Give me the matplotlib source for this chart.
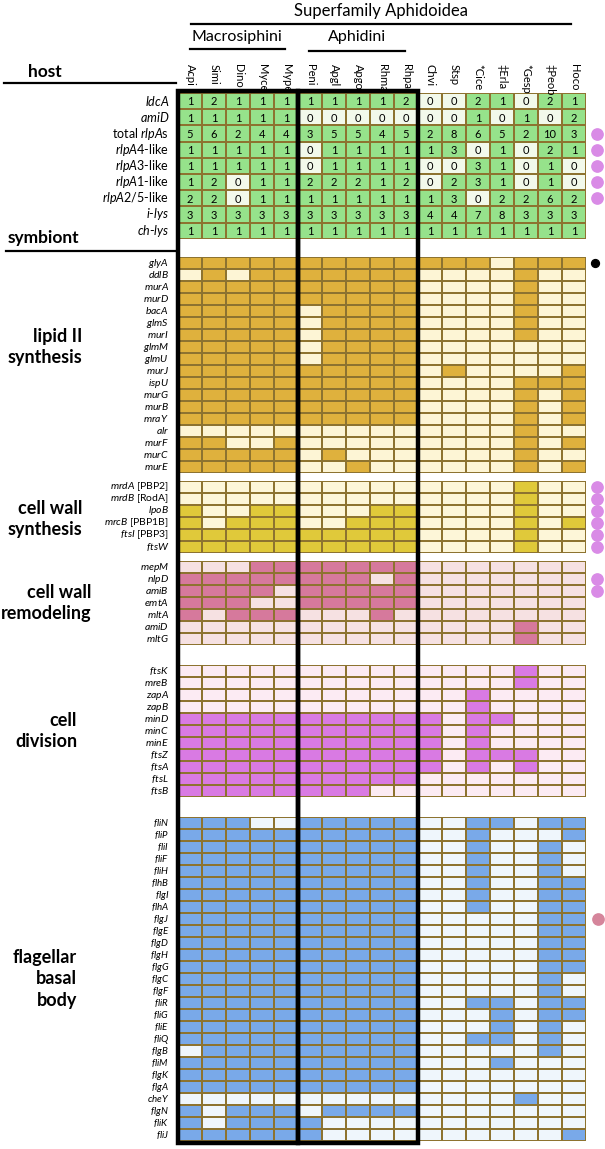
import numpy as np
import matplotlib
matplotlib.use("Agg")
import matplotlib.pyplot as plt
from matplotlib.colors import ListedColormap
from matplotlib.patches import Rectangle

plt.rcParams['font.family'] = ['Lato', 'DejaVu Sans']
plt.rcParams['mathtext.fontset'] = 'custom'
plt.rcParams['mathtext.rm'] = 'Lato'
plt.rcParams['mathtext.it'] = 'Lato:italic'
plt.rcParams['mathtext.bf'] = 'Lato:bold'

# ---------------- data ----------------
species = ["Acpi", "Simi", "Dino", "Myce", "Mype",
           "Peni", "Apgl", "Apgo", "Rhma", "Rhpa",
           "Chvi", "Stsp", "*Cice", "\u2021Erla", "*Gesp", "\u2021Peob", "Hoco"]

host_genes = ["|ldcA|", "|amiD|", "total |rlpA|s", "|rlpA4|-like", "|rlpA3|-like",
              "|rlpA1|-like", "|rlpA2/5|-like", "|i|-|lys|", "|ch|-|lys|"]
host_counts = [
    [1, 2, 1, 1, 1, 1, 1, 1, 1, 2, 0, 0, 2, 1, 0, 2, 1],
    [1, 1, 1, 1, 1, 0, 0, 0, 0, 0, 0, 0, 1, 0, 1, 0, 2],
    [5, 6, 2, 4, 4, 3, 5, 5, 4, 5, 2, 8, 6, 5, 2, 10, 3],
    [1, 1, 1, 1, 1, 0, 1, 1, 1, 1, 1, 3, 0, 1, 0, 2, 1],
    [1, 1, 1, 1, 1, 0, 1, 1, 1, 1, 0, 0, 3, 1, 0, 1, 0],
    [1, 2, 0, 1, 1, 2, 2, 2, 1, 2, 0, 2, 3, 1, 0, 1, 0],
    [2, 2, 0, 1, 1, 1, 1, 1, 1, 1, 1, 3, 0, 2, 2, 6, 2],
    [3, 3, 3, 3, 3, 3, 3, 3, 3, 3, 4, 4, 7, 8, 3, 3, 3],
    [1, 1, 1, 1, 1, 1, 1, 1, 1, 1, 1, 1, 1, 1, 1, 1, 1],
]

lipid_genes = ["glyA", "ddlB", "murA", "murD", "bacA", "glmS", "murI", "glmM", "glmU",
               "murJ", "ispU", "murG", "murB", "mraY", "alr", "murF", "murC", "murE"]
lipid_presence = [
    "11111 11111 1110111",
    "01011 11111 0000100",
    "11111 11111 0000100",
    "11111 11111 0000100",
    "11111 01111 0000100",
    "11111 01111 0000100",
    "11111 01111 0000100",
    "11111 01111 0000000",
    "11111 01111 0000000",
    "11111 11111 0100001",
    "11111 11111 0000111",
    "11111 11111 0000101",
    "11111 11111 0000101",
    "11111 11111 0000101",
    "00000 00000 0000100",
    "11001 00000 0000101",
    "11111 01000 0000100",
    "11111 00100 0000101",
]

cws_genes = ["|mrdA| [PBP2]", "|mrdB| [RodA]", "|lpoB|", "|mrcB| [PBP1B]", "|ftsI| [PBP3]", "|ftsW|"]
cws_presence = [
    "00000 00000 0000100",
    "00000 00000 0000100",
    "10011 00011 0000100",
    "10111 00111 0000101",
    "11111 11111 0000100",
    "11111 11111 0000100",
]

cwr_genes = ["mepM", "nlpD", "amiB", "emtA", "mltA", "amiD", "mltG"]
cwr_presence = [
    "00011 11111 0000000",
    "11111 11101 0000000",
    "11110 11111 0000000",
    "11100 11111 0000000",
    "10111 00010 0000000",
    "00000 00000 0000100",
    "00000 00000 0000100",
]

cd_genes = ["ftsK", "mreB", "zapA", "zapB", "minD", "minC", "minE", "ftsZ", "ftsA", "ftsL", "ftsB"]
cd_presence = [
    "00000 00000 0000100",
    "00000 00000 0000100",
    "00000 00000 0010000",
    "00000 00000 0010000",
    "11111 11111 1011000",
    "11111 11111 1010000",
    "11111 11111 1010000",
    "11111 11111 1011100",
    "11111 11111 1010100",
    "11111 11111 0000000",
    "11111 11100 0000000",
]

fl_genes = ["fliN", "fliP", "fliI", "fliF", "fliH", "flhB", "flgI", "flhA", "flgJ", "flgE",
            "flgD", "flgH", "flgG", "flgC", "flgF", "fliR", "fliG", "fliE", "fliQ", "flgB",
            "fliM", "flgK", "flgA", "cheY", "flgN", "fliK", "fliJ"]
fl_presence = [
    "11100 11111 0011011",
    "11111 11111 0010001",
    "11111 11111 0010010",
    "11111 11111 0010010",
    "11111 11111 0010010",
    "11111 11111 0010011",
    "11111 11111 0010011",
    "11111 11111 0010011",
    "11111 11111 0000011",
    "11111 11111 0000011",
    "11111 11111 0000011",
    "11111 11111 0000011",
    "11111 11111 0000011",
    "11111 11111 0000010",
    "11111 11111 0000010",
    "11111 11111 0011011",
    "11111 11111 0001011",
    "11111 11111 0001010",
    "11111 11111 0011010",
    "01111 11111 0000010",
    "11111 11111 0001000",
    "11111 11111 0000000",
    "11111 11111 0000000",
    "00000 00000 0000100",
    "10111 01111 0000000",
    "10111 10000 0000000",
    "11111 10000 0000001",
]

violet_marked = ["total |rlpA|s", "|rlpA4|-like", "|rlpA3|-like", "|rlpA1|-like", "|rlpA2/5|-like",
                 "|mrdA| [PBP2]", "|mrdB| [RodA]", "|lpoB|", "|mrcB| [PBP1B]", "|ftsI| [PBP3]", "|ftsW|",
                 "nlpD", "amiB"]
black_marked = ["glyA"]
rose_marked = ["flgJ"]

# ---------------- layout ----------------
W, H = 605, 1149
X0, X1 = 178, 586
BORDER = '#8d7330'

fig = plt.figure(figsize=(W / 100, H / 100), dpi=100)


def to_math(lbl):
    parts = lbl.split('|')
    out = ''
    for k, p in enumerate(parts):
        if p == '':
            continue
        if k % 2 == 1:
            out += r'$\mathit{' + p + '}$'
        else:
            out += p
    return out


def parse(rows):
    return np.array([[int(c) for c in r.replace(' ', '')] for r in rows])


def section(top, rowh, genes, mat, on, off, italic_all=False, numbers=None, fs=7.5):
    n = len(genes)
    ax = fig.add_axes([X0 / W, 1 - (top + n * rowh) / H, (X1 - X0) / W, n * rowh / H])
    ax.pcolormesh(np.arange(len(species) + 1), np.arange(n + 1), (mat > 0).astype(int),
                  cmap=ListedColormap([off, on]), vmin=0, vmax=1,
                  edgecolors=BORDER, linewidth=1.1)
    ax.set_xlim(0, len(species))
    ax.set_ylim(n, 0)
    ax.axis('off')
    colw = (X1 - X0) / len(species)
    for i, g in enumerate(genes):
        lab = to_math('|' + g + '|') if italic_all else to_math(g)
        ax.text(-9 / colw, i + 0.5, lab, ha='right', va='center', fontsize=fs)
        key = g
        dot_x = len(species) + 11 / colw
        if key in violet_marked:
            ax.scatter([dot_x], [i + 0.5], s=66, color='#d98be6', clip_on=False, zorder=5)
        if key in black_marked:
            ax.scatter([dot_x - 0.1], [i + 0.5], s=32, color='black', clip_on=False, zorder=5)
        if key in rose_marked:
            ax.scatter([dot_x + 0.05], [i + 0.5], s=66, color='#d5859b', clip_on=False, zorder=5)
    if numbers is not None:
        for i in range(n):
            for j in range(len(species)):
                ax.text(j + 0.5, i + 0.55, str(numbers[i][j]), ha='center', va='center', fontsize=8)
    return ax


section(93, 16.2, host_genes, np.array(host_counts), '#96e28b', '#f2f9eb',
        numbers=host_counts, fs=9)
section(257, 12, lipid_genes, parse(lipid_presence), '#dfb13d', '#fdf5d5', italic_all=True)
section(481, 12, cws_genes, parse(cws_presence), '#e0c93a', '#fdf6d8')
section(561, 12, cwr_genes, parse(cwr_presence), '#d6799c', '#f6e1e2', italic_all=True)
section(665, 12, cd_genes, parse(cd_presence), '#d97ae3', '#fcebf3', italic_all=True)
section(817, 12, fl_genes, parse(fl_presence), '#79a9e9', '#eff6fc', italic_all=True, fs=7.0)

# ---------------- overlay: boxes & column labels ----------------
ov = fig.add_axes([X0 / W, 0, (X1 - X0) / W, 1])
ov.set_xlim(0, len(species))
ov.set_ylim(H, 0)
ov.axis('off')
for g0, g1 in [(0, 5), (5, 10)]:
    ov.add_patch(Rectangle((g0, 91), g1 - g0, 1143 - 91, fill=False,
                           edgecolor='black', linewidth=3.2, zorder=10, clip_on=False))
for j, sp in enumerate(species):
    ov.text(j + 0.5, 64, sp, rotation=270, ha='center', va='top', fontsize=8)

# ---------------- header texts & lines (pixel axes) ----------------
hx = fig.add_axes([0, 0, 1, 1], zorder=-1)
hx.set_xlim(0, W)
hx.set_ylim(H, 0)
hx.axis('off')
hx.text(381, 11, "Superfamily Aphidoidea", ha='center', va='center', fontsize=12)
hx.plot([191, 571], [24, 24], color='black', lw=1.6)
hx.text(237, 37, "Macrosiphini", ha='center', va='center', fontsize=11.5)
hx.plot([190, 285], [49, 49], color='black', lw=1.6)
hx.text(357, 37, "Aphidini", ha='center', va='center', fontsize=11.5)
hx.plot([309, 405], [51, 51], color='black', lw=1.6)

hx.text(45, 72, "host", ha='center', va='center', fontsize=12.5, fontweight='bold')
hx.plot([4, 176], [83, 83], color='black', lw=1.6)
hx.text(8, 238, "symbiont", ha='left', va='center', fontsize=12.5, fontweight='bold')
hx.plot([6, 176], [251, 251], color='black', lw=1.6)

sec_labels = [("lipid II\nsynthesis", 82, 347),
              ("cell wall\nsynthesis", 82, 519),
              ("cell wall\nremodeling", 91, 603),
              ("cell\ndivision", 77, 731),
              ("flagellar\nbasal\nbody", 77, 979)]
for txt, xr, yc in sec_labels:
    hx.text(xr, yc, txt, ha='right', va='center', fontsize=13, fontweight='bold',
            linespacing=1.35)

fig.savefig("out.png", dpi=100)
